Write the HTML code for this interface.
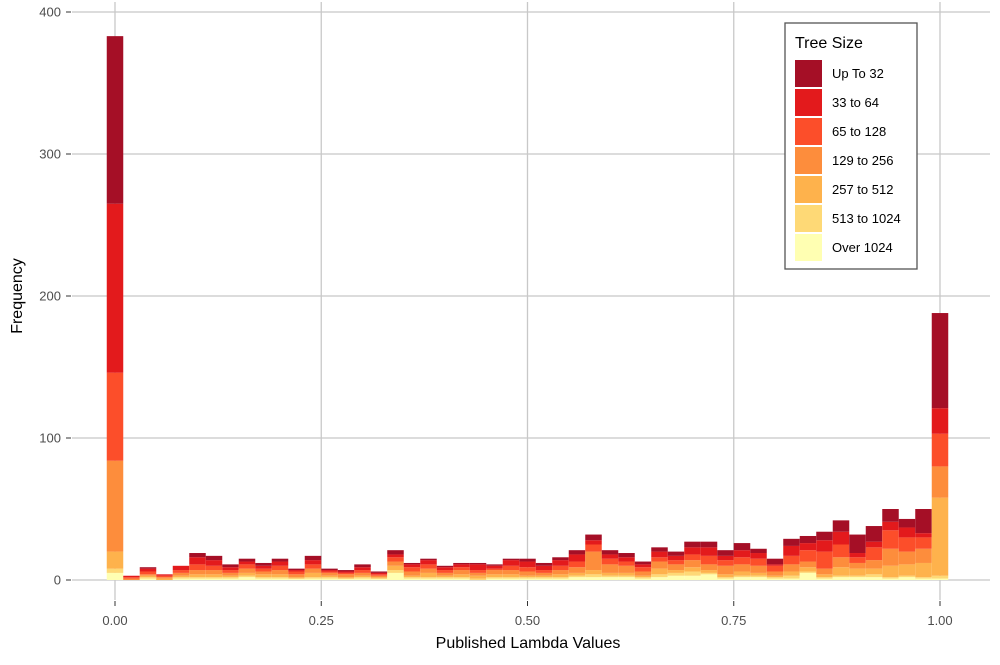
<!DOCTYPE html>
<html><head><meta charset="utf-8"><style>
body{margin:0;background:#fff;font-family:"Liberation Sans",Arial,sans-serif}
svg text{font-family:"Liberation Sans",Arial,sans-serif}
</style></head><body>
<svg id="chart" width="1000" height="660" viewBox="0 0 1000 660"></svg>
<script>
const binCenters=[];for(let i=0;i<=50;i++)binCenters.push(i/50);
const seriesNames=["Over 1024","513 to 1024","257 to 512","129 to 256","65 to 128","33 to 64","Up To 32"];
const colors=["#ffffb2","#fed976","#feb24c","#fd8d3c","#fc4e2a","#e31a1c","#a50f26"];
const over1024=[5,0,1,0,1,1,1,1,2,1,1,1,1,1,1,1,1,5,1,1,1,1,0,1,1,1,1,1,2,2,2,2,1,2,3,3,4,1,2,2,1,1,5,1,2,2,2,1,2,1,1];
const s513=[3,0,1,0,1,1,1,1,1,1,1,0,1,1,0,1,0,2,1,1,1,1,1,1,1,1,1,1,1,2,1,1,1,2,2,3,1,1,1,1,1,2,1,1,1,1,2,1,1,1,2];
const s257=[12,0,1,1,1,2,2,1,2,2,2,1,3,1,1,1,1,3,1,3,1,2,2,2,2,1,1,2,2,3,2,2,1,4,2,3,2,2,3,2,1,3,3,2,6,5,4,8,8,10,55];
const s129=[64,1,1,1,2,3,3,2,3,2,3,2,3,2,2,2,1,3,3,3,2,3,2,3,3,3,2,3,4,13,6,5,3,5,4,5,4,6,5,5,3,5,4,4,7,4,6,12,9,10,22];
const s65=[62,1,2,1,2,4,3,2,3,2,3,2,3,1,1,2,1,3,3,3,2,2,2,1,3,3,2,3,4,5,4,3,3,3,3,4,6,4,5,5,4,6,8,12,9,4,9,13,10,8,23];
const s33=[119,1,2,1,3,5,4,2,2,2,3,1,3,1,1,2,1,2,2,3,2,2,4,2,4,4,3,4,5,3,3,3,2,4,3,5,6,3,5,4,1,7,5,8,9,3,4,6,7,3,18];
const upTo32=[118,0,1,0,0,3,3,2,2,2,2,1,3,1,1,2,1,3,1,1,1,1,1,1,1,2,2,2,3,4,3,3,2,3,3,4,4,4,5,3,4,5,5,6,8,13,11,9,6,17,67];
const series=[over1024,s513,s257,s129,s65,s33,upTo32];
const xTicks=[0,0.25,0.5,0.75,1];const xTickLabels=["0.00","0.25","0.50","0.75","1.00"];
const yTicks=[0,100,200,300,400];
const NS="http://www.w3.org/2000/svg";const svg=document.getElementById('chart');
const X=v=>115+v*825, Y=v=>580-v*1.42;
function mk(t,a,txt){const e=document.createElementNS(NS,t);for(const k in a)e.setAttribute(k,a[k]);if(txt!=null)e.textContent=txt;svg.appendChild(e);return e;}
yTicks.forEach(v=>{const l=mk('line',{x1:72,x2:990,y1:Y(v),y2:Y(v),stroke:'#c8c8c8','stroke-width':1.3});

const tk=mk('line',{x1:66,x2:71,y1:Y(v),y2:Y(v),stroke:'#333'});
const t=mk('text',{x:61,y:Y(v)+4.5,'text-anchor':'end','font-size':13,fill:'#4d4d4d'},String(v));
});
xTicks.forEach((v,i)=>{const l=mk('line',{x1:X(v),x2:X(v),y1:2,y2:600,stroke:'#c8c8c8','stroke-width':1.3});

const tk=mk('line',{x1:X(v),x2:X(v),y1:601,y2:606,stroke:'#333'});
const t=mk('text',{x:X(v),y:625,'text-anchor':'middle','font-size':13,fill:'#4d4d4d'},xTickLabels[i]);
});
const bw=0.02*825;
binCenters.forEach((c,i)=>{let cum=0;series.forEach((s,j)=>{const v=s[i];if(v>0){const r=mk('rect',{x:X(c)-bw/2,y:Y(cum+v),width:bw,height:v*1.42,fill:colors[j]});
}cum+=v;});});
const xt=mk('text',{x:528,y:648,'text-anchor':'middle','font-size':16,fill:'#000'},'Published Lambda Values');

const yt=mk('text',{x:22,y:296,'text-anchor':'middle','font-size':16,fill:'#000',transform:'rotate(-90 22 296)'},'Frequency');

const lb=mk('rect',{x:785,y:23,width:132,height:246,fill:'#fff',stroke:'#555','stroke-width':1.3});

const lt=mk('text',{x:795,y:48,'font-size':16,fill:'#000'},'Tree Size');

for(let k=0;k<7;k++){const j=6-k;const y=60+k*29;
const sw=mk('rect',{x:795,y:y,width:27,height:27,fill:colors[j]});
const t=mk('text',{x:832,y:y+18,'font-size':13,fill:'#000'},seriesNames[j]);}
</script></body></html>
